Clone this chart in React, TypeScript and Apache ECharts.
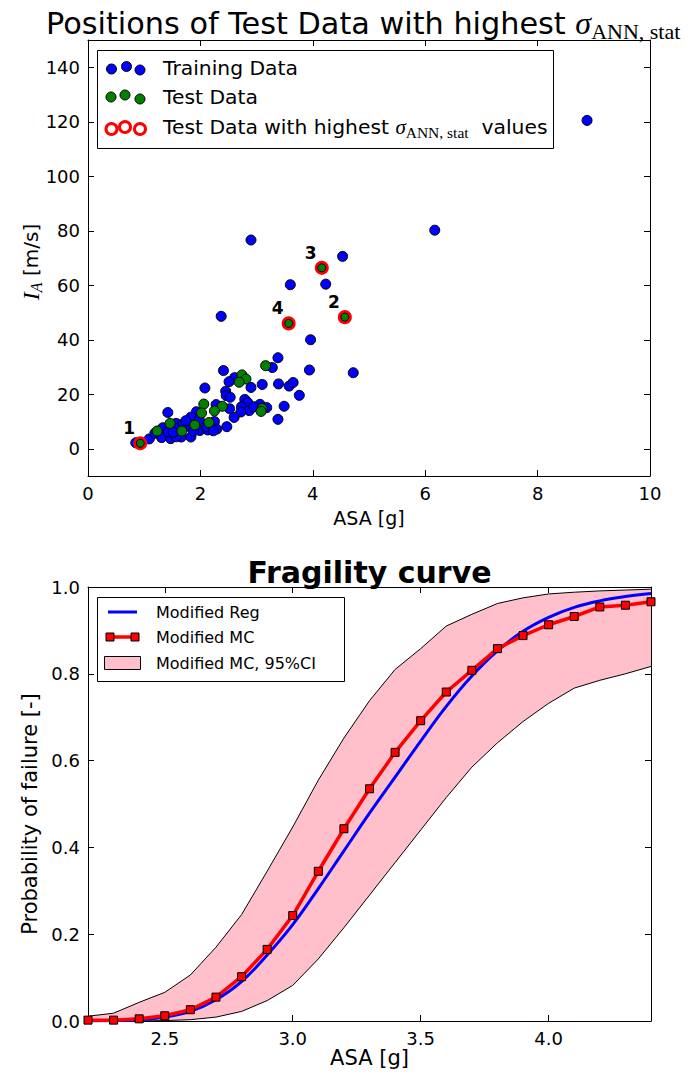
import React, { useEffect, useRef } from "react";
import * as echarts from "echarts";

const FONT = "DejaVu Sans";
const SERIF = "Liberation Serif";

// ---------- Top chart: scatter ----------
const trainingPoints: number[][] = [
  [8.88, 120.5], [6.17, 80.2], [2.9, 76.6], [4.53, 70.6], [3.6, 60.2], [4.23, 60.4],
  [2.37, 48.6], [3.96, 40.0], [3.38, 33.4], [4.72, 27.9], [3.94, 28.9], [2.41, 28.7],
  [3.28, 29.8], [3.39, 23.8], [3.58, 23.0], [3.65, 24.3], [3.76, 19.6], [3.49, 15.6],
  [3.38, 10.8],
  [2.61, 26.1], [2.51, 24.6], [2.9, 22.5], [3.1, 23.6], [2.08, 22.3], [2.45, 21.1],
  [2.46, 19.5], [2.53, 18.9], [2.79, 18.1], [2.84, 17.0], [2.73, 15.4], [2.87, 14.0],
  [2.72, 13.5], [2.52, 14.7], [2.6, 11.5], [3.06, 16.3], [3.18, 15.1], [2.95, 15.4],
  [2.28, 16.2],
  [1.93, 13.6], [1.83, 11.6], [2.25, 10.0], [2.29, 7.2], [1.98, 10.6], [0.85, 2.2],
  [1.09, 3.6], [1.19, 5.7], [1.33, 7.7], [1.31, 4.1], [1.47, 3.7], [1.43, 6.2],
  [1.42, 13.3], [1.57, 9.3], [1.66, 4.3], [1.83, 4.3], [1.78, 8.3], [1.99, 6.7],
  [2.13, 6.9], [2.47, 8.1], [1.58, 7.5], [1.7, 9.1], [2.11, 8.1], [1.57, 4.4],
  [2.23, 6.6], [1.52, 6.0], [1.88, 6.5], [1.74, 10.3],
];

const testPoints: number[][] = [
  [3.16, 30.5], [2.74, 27.1], [2.81, 25.6], [2.69, 24.4], [3.1, 14.8], [3.08, 13.7],
  [2.06, 16.4], [2.39, 15.6], [2.25, 13.9], [2.02, 13.1], [2.15, 9.6], [1.9, 8.7],
  [1.23, 6.5], [1.46, 9.3], [1.67, 6.5],
];

const highlightLabels: string[] = ["1", "2", "3", "4"];
const highlightPoints: number[][] = [
  [0.93, 2.0], [4.57, 48.3], [4.16, 66.4], [3.57, 46.0],
];

const topYTicks: number[] = [0, 20, 40, 60, 80, 100, 120, 140];

// ---------- Bottom chart: fragility ----------
const asaGrid: number[] = [
  2.2, 2.3, 2.4, 2.5, 2.6, 2.7, 2.8, 2.9, 3.0, 3.1, 3.2, 3.3, 3.4, 3.5, 3.6, 3.7, 3.8,
  3.9, 4.0, 4.1, 4.2, 4.3, 4.4,
];
const regProb: number[] = [
  0.0, 0.001, 0.003, 0.009, 0.022, 0.049, 0.091, 0.152, 0.222, 0.305, 0.392, 0.479,
  0.562, 0.645, 0.725, 0.795, 0.853, 0.898, 0.93, 0.953, 0.968, 0.978, 0.985,
];
const mcProb: number[] = [
  0.002, 0.002, 0.005, 0.012, 0.026, 0.055, 0.102, 0.165, 0.243, 0.345, 0.443, 0.535,
  0.619, 0.692, 0.758, 0.808, 0.858, 0.888, 0.913, 0.932, 0.954, 0.958, 0.966,
];
const ciUpper: number[] = [
  0.011, 0.018, 0.043, 0.066, 0.106, 0.17, 0.245, 0.345, 0.447, 0.555, 0.652, 0.738,
  0.81, 0.858, 0.91, 0.937, 0.962, 0.975, 0.984, 0.988, 0.991, 0.993, 0.995,
];
const ciLower: number[] = [
  0.0, 0.0, 0.0, 0.001, 0.003, 0.009, 0.022, 0.047, 0.082, 0.143, 0.215, 0.29, 0.365,
  0.44, 0.515, 0.585, 0.641, 0.69, 0.732, 0.767, 0.785, 0.8, 0.817,
];
const bottomXTicks: number[] = [2.5, 3.0, 3.5, 4.0];

const TOP = { left: 88, right: 650, top: 40, bottom: 476 };
const BOT = { left: 88, right: 651, top: 587, bottom: 1021 };

export default function App() {
  const ref = useRef<HTMLDivElement>(null);

  useEffect(() => {
    document.body.style.margin = "0";
    if (!ref.current) return;
    const chart = echarts.init(ref.current, undefined, { renderer: "svg" });

    const axisCommon = {
      axisLine: { show: true, onZero: false, lineStyle: { color: "#000", width: 1 } },
      axisTick: { show: true, inside: true, length: 6, lineStyle: { color: "#000", width: 1 } },
      splitLine: { show: false },
    };
    const labelStyle = { color: "#000", fontFamily: FONT, fontSize: 18 };

    const topLegendY = [68, 97, 127];
    const mk = (x: number, y: number, fill: string) => ({
      type: "circle",
      shape: { cx: x, cy: y, r: 5 },
      style: { fill, stroke: "#000", lineWidth: 1 },
      z: 101,
    });
    const ring = (x: number, y: number) => ({
      type: "circle",
      shape: { cx: x, cy: y, r: 5.5 },
      style: { fill: "#fff", stroke: "#ff0000", lineWidth: 3 },
      z: 101,
    });

    const bandData = asaGrid.map((x, i) => [x, ciLower[i], ciUpper[i]]);

    const option: any = {
      animation: false,
      backgroundColor: "#fff",
      grid: [
        { left: TOP.left, top: TOP.top, width: TOP.right - TOP.left, height: TOP.bottom - TOP.top },
        { left: BOT.left, top: BOT.top, width: BOT.right - BOT.left, height: BOT.bottom - BOT.top },
      ],
      xAxis: [
        {
          ...axisCommon, gridIndex: 0, type: "value", min: 0, max: 10, interval: 2, position: "bottom",
          axisLabel: { ...labelStyle, margin: 8 },
          name: "ASA [g]", nameLocation: "middle", nameGap: 32,
          nameTextStyle: { color: "#000", fontFamily: FONT, fontSize: 19 },
        },
        {
          ...axisCommon, gridIndex: 0, type: "value", min: 0, max: 10, interval: 2, position: "top",
          axisLabel: { show: false },
        },
        {
          ...axisCommon, gridIndex: 1, type: "value", min: 2.2, max: 4.4, position: "bottom",
          axisTick: { ...axisCommon.axisTick, customValues: bottomXTicks },
          axisLabel: { ...labelStyle, margin: 8, customValues: bottomXTicks, formatter: (v: number) => v.toFixed(1) },
          name: "ASA [g]", nameLocation: "middle", nameGap: 26,
          nameTextStyle: { color: "#000", fontFamily: FONT, fontSize: 21 },
        },
        {
          ...axisCommon, gridIndex: 1, type: "value", min: 2.2, max: 4.4, position: "top",
          axisTick: { ...axisCommon.axisTick, customValues: bottomXTicks },
          axisLabel: { show: false },
        },
      ],
      yAxis: [
        {
          ...axisCommon, gridIndex: 0, type: "value", min: -10, max: 150, position: "left",
          axisTick: { ...axisCommon.axisTick, customValues: topYTicks },
          axisLabel: { ...labelStyle, margin: 8, customValues: topYTicks },
        },
        {
          ...axisCommon, gridIndex: 0, type: "value", min: -10, max: 150, position: "right",
          axisTick: { ...axisCommon.axisTick, customValues: topYTicks },
          axisLabel: { show: false },
        },
        {
          ...axisCommon, gridIndex: 1, type: "value", min: 0, max: 1, interval: 0.2, position: "left",
          axisLabel: { ...labelStyle, margin: 8, formatter: (v: number) => v.toFixed(1) },
          name: "Probability of failure [-]", nameLocation: "middle", nameGap: 46, nameRotate: 90,
          nameTextStyle: { color: "#000", fontFamily: FONT, fontSize: 21, padding: [0, 20, 0, 0] },
        },
        {
          ...axisCommon, gridIndex: 1, type: "value", min: 0, max: 1, interval: 0.2, position: "right",
          axisLabel: { show: false },
        },
      ],
      series: [
        {
          type: "scatter", xAxisIndex: 0, yAxisIndex: 0, data: trainingPoints, symbolSize: 10,
          itemStyle: { color: "#0000ff", borderColor: "#000", borderWidth: 1, opacity: 1 },
          z: 2,
        },
        {
          type: "scatter", xAxisIndex: 0, yAxisIndex: 0, data: testPoints, symbolSize: 10,
          itemStyle: { color: "#008000", borderColor: "#000", borderWidth: 1, opacity: 1 },
          z: 3,
        },
        {
          type: "scatter", xAxisIndex: 0, yAxisIndex: 0,
          data: highlightPoints.map((p, i) => ({ name: highlightLabels[i], value: p })),
          symbolSize: 11,
          itemStyle: { color: "#ff0000", borderColor: "#ff0000", borderWidth: 3, opacity: 1 },
          label: {
            show: true, position: "inside", offset: [-11, -15], formatter: (p: any) => p.name,
            color: "#000", fontFamily: FONT, fontWeight: "bold", fontSize: 17,
          },
          z: 4,
        },
        {
          type: "scatter", xAxisIndex: 0, yAxisIndex: 0, data: highlightPoints, symbolSize: 8,
          itemStyle: { color: "#008000", borderColor: "#000", borderWidth: 1, opacity: 1 },
          z: 5,
        },
        {
          type: "custom", xAxisIndex: 2, yAxisIndex: 2, data: bandData, clip: true, z: 1,
          encode: { x: 0, y: [1, 2] },
          renderItem: (params: any, api: any) => {
            if (params.dataIndex !== 0) return null;
            const upperPts = bandData.map((d) => api.coord([d[0], d[2]]));
            const lowerPts = bandData.map((d) => api.coord([d[0], d[1]])).reverse();
            return {
              type: "polygon",
              shape: { points: upperPts.concat(lowerPts) },
              style: { fill: "#ffc0cb", stroke: "none" },
            };
          },
        },
        {
          type: "line", xAxisIndex: 2, yAxisIndex: 2, symbol: "none",
          data: asaGrid.map((x, i) => [x, ciLower[i]]),
          lineStyle: { color: "#000", width: 1 }, z: 2,
        },
        {
          type: "line", xAxisIndex: 2, yAxisIndex: 2, symbol: "none",
          data: asaGrid.map((x, i) => [x, ciUpper[i]]),
          lineStyle: { color: "#000", width: 1 }, z: 2,
        },
        {
          type: "line", xAxisIndex: 2, yAxisIndex: 2, symbol: "none", smooth: 0.4,
          data: asaGrid.map((x, i) => [x, regProb[i]]),
          lineStyle: { color: "#0000ff", width: 3 }, z: 3,
        },
        {
          type: "line", xAxisIndex: 2, yAxisIndex: 2, symbol: "rect", symbolSize: 8, showSymbol: true,
          data: asaGrid.map((x, i) => [x, mcProb[i]]),
          lineStyle: { color: "#ff0000", width: 3.5 },
          itemStyle: { color: "#ff0000", borderColor: "#000", borderWidth: 1 }, z: 4,
        },
      ],
      graphic: [
        // Top title
        {
          type: "text", x: 46, y: 23, z: 100,
          style: {
            text: "{a|Positions of Test Data with highest }{g|σ}{b|ANN, stat}",
            verticalAlign: "middle",
            rich: {
              a: { fontFamily: FONT, fontSize: 30.3, fill: "#000" },
              g: { fontFamily: SERIF, fontStyle: "italic", fontSize: 32, fill: "#000" },
              b: { fontFamily: SERIF, fontSize: 22, fill: "#000", padding: [16, 0, 0, 0] },
            },
          },
        },
        // Top y-axis title
        {
          type: "text", x: 31, y: 262, rotation: Math.PI / 2, z: 100,
          style: {
            text: "{i|I}{s|A}{n| [m/s]}",
            align: "center", verticalAlign: "middle",
            rich: {
              i: { fontFamily: SERIF, fontStyle: "italic", fontSize: 24, fill: "#000" },
              s: { fontFamily: SERIF, fontStyle: "italic", fontSize: 16, fill: "#000", padding: [11, 0, 0, 0] },
              n: { fontFamily: FONT, fontSize: 20, fill: "#000" },
            },
          },
        },
        // Top legend
        {
          type: "rect", z: 100,
          shape: { x: 97.5, y: 50.5, width: 456, height: 98 },
          style: { fill: "#fff", stroke: "#000", lineWidth: 1 },
        },
        mk(111.5, topLegendY[0] + 1, "#0000ff"), mk(126.5, topLegendY[0] - 1.5, "#0000ff"), mk(140, topLegendY[0] + 2, "#0000ff"),
        mk(111, topLegendY[1], "#008000"), mk(125, topLegendY[1] - 2, "#008000"), mk(140, topLegendY[1] + 2, "#008000"),
        ring(111.5, topLegendY[2] + 2), ring(125, topLegendY[2]), ring(140, topLegendY[2] + 2),
        {
          type: "text", x: 163, y: topLegendY[0], z: 101,
          style: { text: "Training Data", fontFamily: FONT, fontSize: 20.3, fill: "#000", verticalAlign: "middle" },
        },
        {
          type: "text", x: 163, y: topLegendY[1], z: 101,
          style: { text: "Test Data", fontFamily: FONT, fontSize: 20.3, fill: "#000", verticalAlign: "middle" },
        },
        {
          type: "text", x: 163, y: topLegendY[2], z: 101,
          style: {
            text: "{a|Test Data with highest }{g|σ}{b|ANN, stat}{a|  values}",
            verticalAlign: "middle",
            rich: {
              a: { fontFamily: FONT, fontSize: 20.3, fill: "#000" },
              g: { fontFamily: SERIF, fontStyle: "italic", fontSize: 21, fill: "#000" },
              b: { fontFamily: SERIF, fontSize: 15.5, fill: "#000", padding: [11, 0, 0, 0] },
            },
          },
        },
        // Bottom title
        {
          type: "text", x: (BOT.left + BOT.right) / 2, y: 572, z: 100,
          style: {
            text: "Fragility curve", fontFamily: FONT, fontWeight: "bold", fontSize: 30,
            fill: "#000", align: "center", verticalAlign: "middle",
          },
        },
        // Bottom legend
        {
          type: "rect", z: 100,
          shape: { x: 97.5, y: 597.5, width: 247, height: 84 },
          style: { fill: "#fff", stroke: "#000", lineWidth: 1 },
        },
        {
          type: "line", z: 101, shape: { x1: 108, y1: 612, x2: 137, y2: 612 },
          style: { stroke: "#0000ff", lineWidth: 3 },
        },
        {
          type: "line", z: 101, shape: { x1: 110, y1: 637, x2: 135, y2: 637 },
          style: { stroke: "#ff0000", lineWidth: 3.5 },
        },
        {
          type: "rect", z: 102, shape: { x: 106, y: 633, width: 8, height: 8 },
          style: { fill: "#ff0000", stroke: "#000", lineWidth: 1 },
        },
        {
          type: "rect", z: 102, shape: { x: 131, y: 633, width: 8, height: 8 },
          style: { fill: "#ff0000", stroke: "#000", lineWidth: 1 },
        },
        {
          type: "rect", z: 101, shape: { x: 104.5, y: 656.5, width: 36, height: 13 },
          style: { fill: "#ffc0cb", stroke: "#000", lineWidth: 1 },
        },
        {
          type: "text", x: 156, y: 612, z: 101,
          style: { text: "Modified Reg", fontFamily: FONT, fontSize: 16, fill: "#000", verticalAlign: "middle" },
        },
        {
          type: "text", x: 156, y: 637, z: 101,
          style: { text: "Modified MC", fontFamily: FONT, fontSize: 16, fill: "#000", verticalAlign: "middle" },
        },
        {
          type: "text", x: 156, y: 663, z: 101,
          style: { text: "Modified MC, 95%CI", fontFamily: FONT, fontSize: 16, fill: "#000", verticalAlign: "middle" },
        },
      ],
    };

    chart.setOption(option);
    return () => chart.dispose();
  }, []);

  return (
    <div
      ref={ref}
      style={{ position: "absolute", left: 0, top: 0, width: 692, height: 1079, background: "#fff" }}
    />
  );
}
